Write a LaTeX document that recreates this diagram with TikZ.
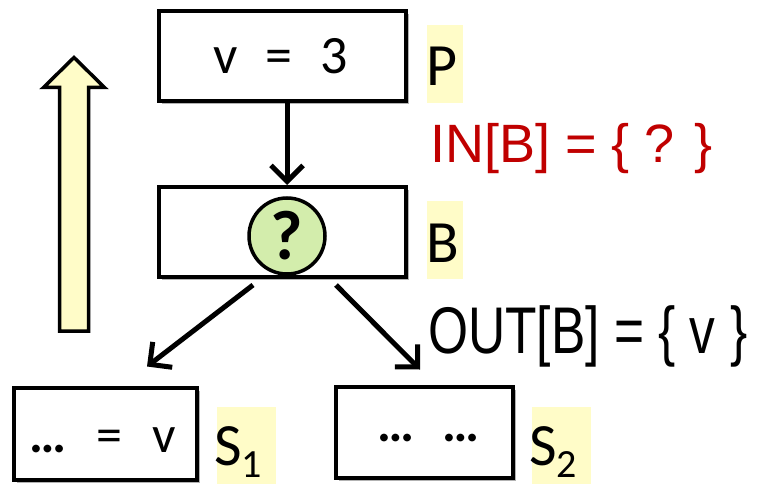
\documentclass[tikz,border=0pt]{standalone}
\usepackage{fontspec}
\setmainfont{Carlito}
\newfontfamily\arialf{Liberation Sans}
\usetikzlibrary{arrows.meta,shadows}
\definecolor{hl}{RGB}{255,252,200}
\definecolor{qgreen}{RGB}{211,237,172}
\definecolor{inred}{RGB}{192,0,0}
\begin{document}
\begin{tikzpicture}[x=1pt,y=-1pt,
  blk/.style={draw, line width=4pt, fill=white, inner sep=0pt,
    drop shadow={shadow xshift=3pt, shadow yshift=-3pt, opacity=0.3, fill=black}},
  hlbox/.style={fill=hl, inner sep=0pt, minimum width=36pt, minimum height=78pt},
  txt/.style={inner sep=0pt, anchor=base west},
  arr/.style={line width=5pt, -{Straight Barb[length=16pt,width=32pt]}},
  big/.style={font=\fontsize{60}{70}\selectfont},
  boxt/.style={font=\fontsize{54}{60}\selectfont},
]
\useasboundingbox (0,0) rectangle (763,484);

% big upward arrow
\path[draw, line width=3.5pt, fill=hl, line join=miter]
  (59.5,331) -- (59.5,87.5) -- (43.5,87.5) -- (74,57.5) -- (104.5,87.5) -- (88.5,87.5) -- (88.5,331) -- cycle;

% boxes
\node[blk, minimum width=247pt, minimum height=90pt] (P) at (282.5,56) {};
\node[blk, minimum width=247pt, minimum height=90pt] (B) at (282.5,232) {};
\node[blk, minimum width=183pt, minimum height=92pt] (S1) at (105.5,434) {};
\node[blk, minimum width=177pt, minimum height=91pt] (S2) at (424.5,432.5) {};

% circle
\node[draw, circle, line width=3.5pt, fill=qgreen, minimum size=76pt, inner sep=0pt,
      font=\fontsize{70}{72}\selectfont\bfseries] (q) at (287,236) {?};

% box texts
\node[txt, boxt] (ptext) at (213,74) {v\hspace{28pt}=\hspace{28pt}3};
\node[txt, font=\fontsize{52}{60}\selectfont] (s1text) at (29,452) {\textbf{…}\hspace{30pt}=\hspace{30pt}v};
\node[txt, font=\fontsize{52}{60}\selectfont\bfseries] (s2text) at (377,441) {…\hspace{28pt}…};

% connectors
\draw[arr] (P.south -| q.center) -- (B.north -| q.center);
\draw[arr] ([xshift=-29.5pt,yshift=-6pt]B.south) -- ([xshift=41.5pt,yshift=19.5pt]S1.north);
\draw[arr] ([xshift=53.5pt,yshift=-6pt]B.south) -- ([xshift=-4.5pt,yshift=15.5pt]S2.north);

% highlighted labels
\node[hlbox] (hP) at (445,64) {};
\node[hlbox] (hB) at (445,240) {};
\node[hlbox, minimum width=59pt, minimum height=77pt] (hS1) at (246.5,445.5) {};
\node[hlbox, minimum width=59pt, minimum height=77pt] (hS2) at (561.5,445.5) {};

\node[txt, big] (lP) at (426,86) {P};
\node[txt, big] (lB) at (426,262) {B};
\node[txt, big] (lS1) at (214,465) {S\raisebox{-12pt}[0pt][0pt]{\fontsize{40}{40}\selectfont 1}};
\node[txt, big] (lS2) at (529,465) {S\raisebox{-12pt}[0pt][0pt]{\fontsize{40}{40}\selectfont 2}};

% set labels
\node[txt, font=\arialf\fontsize{54}{60}\selectfont, text=inred] (inB) at (430,163) {IN[B] = \{ ? \}};
\node[txt, font=\arialf\fontsize{66}{70}\selectfont] (outB) at (428,353) {\scalebox{0.78}[1]{OUT[B] = \{ v \}}};
\end{tikzpicture}
\end{document}
